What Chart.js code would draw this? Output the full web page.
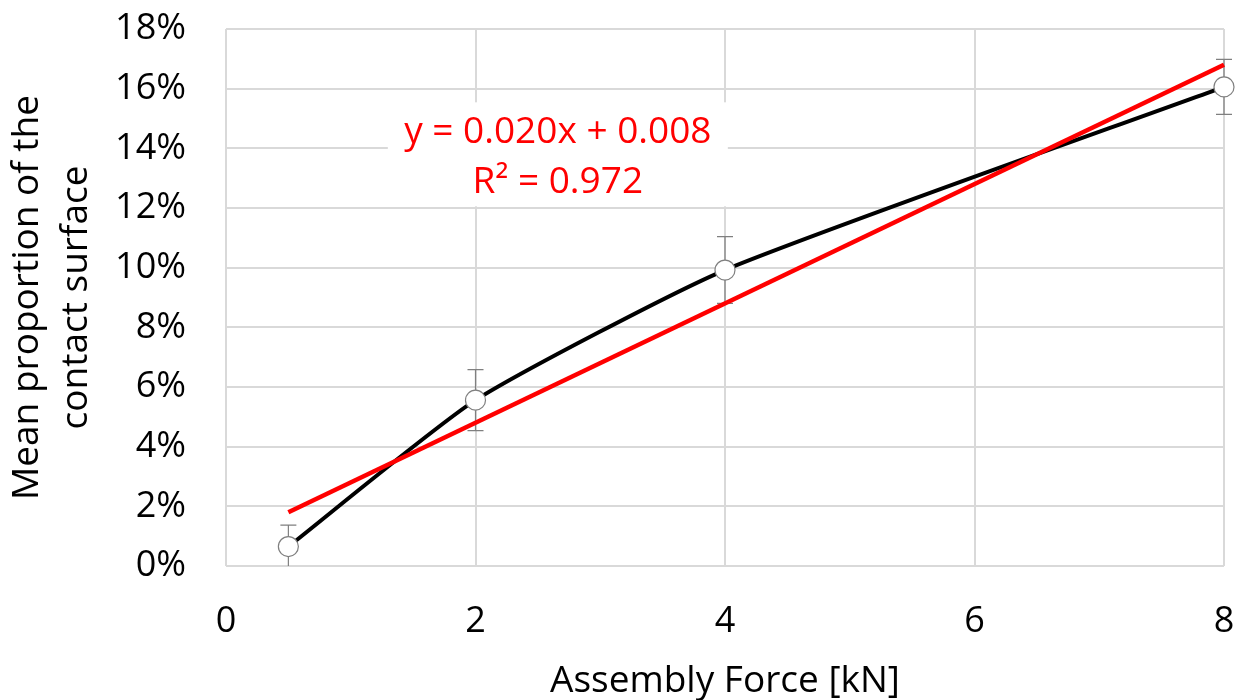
<!DOCTYPE html>
<html>
<head>
<meta charset="utf-8">
<script src="https://cdn.jsdelivr.net/npm/chart.js@4"></script>
<style>
html,body{margin:0;padding:0;background:#fff;}
#wrap{width:1236px;height:700px;position:relative;}
</style>
</head>
<body>
<div id="wrap"><canvas id="c" width="1236" height="700"></canvas></div>
<script>
// Data
const forces = [0.5, 2, 4, 8];                 // kN
const meanPct = [0.65, 5.56, 9.92, 16.06];     // %
const errPct = [0.72, 1.02, 1.12, 0.92];       // % (+/-)
const trendX = [0.5, 8];
const trendY = [1.80, 16.80];
const xTicks = [0, 2, 4, 6, 8];
const yTicks = [0, 2, 4, 6, 8, 10, 12, 14, 16, 18];
const eqLines = ['y = 0.020x + 0.008', 'R² = 0.972'];

const FONT = "'Open Sans', 'Liberation Sans', sans-serif";

const errorBars = {
  id: 'errorBars',
  beforeDatasetsDraw(chart) {
    const {ctx, scales: {x, y}} = chart;
    ctx.save();
    ctx.strokeStyle = '#7f7f7f';
    ctx.lineWidth = 1.2;
    forces.forEach((f, i) => {
      const px = x.getPixelForValue(f);
      const top = y.getPixelForValue(meanPct[i] + errPct[i]);
      const bot = y.getPixelForValue(Math.max(0, meanPct[i] - errPct[i]));
      ctx.beginPath();
      ctx.moveTo(px, top); ctx.lineTo(px, bot);
      ctx.moveTo(px - 8, top); ctx.lineTo(px + 8, top);
      if (meanPct[i] - errPct[i] > 0) { ctx.moveTo(px - 8, bot); ctx.lineTo(px + 8, bot); }
      ctx.stroke();
    });
    ctx.restore();
  }
};

const eqLabel = {
  id: 'eqLabel',
  afterDraw(chart) {
    const {ctx, scales: {x, y}} = chart;
    ctx.save();
    const cx = x.getPixelForValue(2.66);
    const cy = y.getPixelForValue(14.0);
    ctx.fillStyle = '#ffffff';
    ctx.fillRect(cx - 170, cy - 46, 340, 104);
    ctx.fillStyle = '#ff0000';
    ctx.font = '37px ' + FONT;
    ctx.textAlign = 'center';
    ctx.textBaseline = 'middle';
    ctx.fillText(eqLines[0], cx, cy - 16);
    ctx.fillText(eqLines[1], cx, cy + 34);
    ctx.restore();
  }
};

new Chart(document.getElementById('c'), {
  type: 'scatter',
  data: {
    datasets: [
      {
        label: 'Mean',
        data: forces.map((v, i) => ({x: v, y: meanPct[i]})),
        showLine: true,
        clip: false,
        borderColor: '#000000',
        borderWidth: 4,
        tension: 0.18,
        pointRadius: 10,
        pointBackgroundColor: '#ffffff',
        pointBorderColor: '#7f7f7f',
        pointBorderWidth: 1.2,
        order: 2
      },
      {
        label: 'Trend',
        data: trendX.map((v, i) => ({x: v, y: trendY[i]})),
        showLine: true,
        clip: false,
        borderColor: '#ff0000',
        borderWidth: 4.5,
        pointRadius: 0,
        order: 1
      }
    ]
  },
  options: {
    responsive: false,
    animation: false,
    layout: {padding: {top: 29, right: 12, left: 0, bottom: 0}},
    plugins: {legend: {display: false}, tooltip: {enabled: false}},
    scales: {
      x: {
        type: 'linear', min: 0, max: 8,
        afterBuildTicks: s => { s.ticks = xTicks.map(v => ({value: v})); },
        afterFit: s => { s.height = 134; s.paddingLeft = 0; s.paddingRight = 0; },
        grid: {color: '#d9d9d9', lineWidth: 2, drawTicks: false},
        border: {display: false},
        ticks: {color: '#000', font: {family: FONT, size: 36}, padding: 34},
        title: {display: true, text: 'Assembly Force [kN]', color: '#000', font: {family: FONT, size: 37}, padding: {top: 28, bottom: -4}}
      },
      y: {
        min: 0, max: 18,
        afterBuildTicks: s => { s.ticks = yTicks.map(v => ({value: v})); },
        afterFit: s => { s.width = 226; s.paddingTop = 0; s.paddingBottom = 0; },
        grid: {color: '#d9d9d9', lineWidth: 2, drawTicks: false},
        border: {display: false},
        ticks: {color: '#000', font: {family: FONT, size: 36}, padding: 40, callback: v => v + '%'},
        title: {display: true, text: ['Mean proportion of the', 'contact surface'], color: '#000', font: {family: FONT, size: 37, lineHeight: 1.35}, padding: {top: 2, bottom: 0}}
      }
    }
  },
  plugins: [errorBars, eqLabel]
});
</script>
</body>
</html>
